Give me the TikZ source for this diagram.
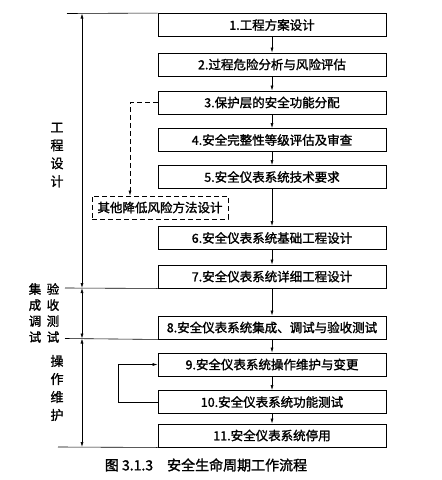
\documentclass[tikz,border=0pt]{standalone}
\usepackage{fontspec}
\setmainfont{Noto Sans CJK SC}[FakeBold=1.5]
\usetikzlibrary{arrows.meta}
\begin{document}
\begin{tikzpicture}[x=1pt,y=-1pt,
  stepbox/.style={draw,line width=0.9pt,minimum width=228pt,minimum height=23pt,inner sep=0pt,font=\fontsize{12.5}{14}\selectfont},
  dashbox/.style={draw,dash pattern=on 5pt off 3pt,line width=0.8pt,minimum width=136pt,minimum height=23pt,inner sep=0pt,font=\fontsize{12.5}{14}\selectfont},
  arr/.style={line width=0.6pt,-{Latex[length=5pt,width=3pt]}},
  darr/.style={line width=0.6pt,{Latex[length=5pt,width=3pt]}-{Latex[length=5pt,width=3pt]}},
  rule/.style={line width=0.6pt},
  lab/.style={align=center,font=\fontsize{13}{18}\selectfont,inner sep=0pt}]
\useasboundingbox (0,0) rectangle (442,480);
\node[stepbox] (b1) at (272,25) {1.工程方案设计};
\node[stepbox] (b2) at (272,64.5) {2.过程危险分析与风险评估};
\node[stepbox] (b3) at (272,102.5) {3.保护层的安全功能分配};
\node[stepbox] (b4) at (272,140) {4.安全完整性等级评估及审查};
\node[stepbox] (b5) at (272,177) {5.安全仪表系统技术要求};
\node[dashbox] (d) at (160,207.5) {其他降低风险方法设计};
\node[stepbox] (b6) at (272,238) {6.安全仪表系统基础工程设计};
\node[stepbox] (b7) at (272,276.5) {7.安全仪表系统详细工程设计};
\node[stepbox] (b8) at (272,327.5) {8.安全仪表系统集成、调试与验收测试};
\node[stepbox] (b9) at (272,364.5) {9.安全仪表系统操作维护与变更};
\node[stepbox] (b10) at (272,402) {10.安全仪表系统功能测试};
\node[stepbox] (b11) at (272,435.5) {11.安全仪表系统停用};
\foreach \a/\b in {b1/b2,b2/b3,b3/b4,b4/b5,b5/b6,b6/b7,b7/b8,b8/b9,b9/b10,b10/b11}
  \draw[arr] (\a) -- (\b);
\draw[arr,dash pattern=on 5pt off 3pt] (b3.west) -| (d.north -| 130,0);
\draw[arr] (b10.west) -- ++(-39,0) |- (b9.west);
% left rules
\coordinate (t0) at (67,13.5);
\coordinate (t1) at (65,288);
\coordinate (t2) at (65,338.5);
\coordinate (t3) at (58,447);
\draw[rule] (t0) -- (b1.north west);
\draw[rule] (t1) -- (b7.south west);
\draw[rule] (t2) -- (b8.south west);
\draw[rule] (t3) -- (b11.south west);
\coordinate (v0) at (82,13.5);
\coordinate (v1) at (82,288);
\coordinate (v2) at (82,338.5);
\coordinate (v3) at (82,447);
\draw[darr] (v0) -- (v1);
\draw[darr] (v1) -- (v2);
\draw[darr] (v2) -- (v3);
\node[lab] (l1) at (57,155) {工\\程\\设\\计};
\node[lab,font=\fontsize{12.5}{16}\selectfont] (l2) at (35,313) {集\\成\\调\\试};
\node[lab,font=\fontsize{12.5}{16}\selectfont] (l3) at (53,313) {验\\收\\测\\试};
\node[lab] (l4) at (57,388) {操\\作\\维\\护};
\node[font=\fontsize{14}{16}\selectfont,inner sep=0pt] (cap) at (206,465) {图 3.1.3\quad 安全生命周期工作流程};
\end{tikzpicture}
\end{document}
